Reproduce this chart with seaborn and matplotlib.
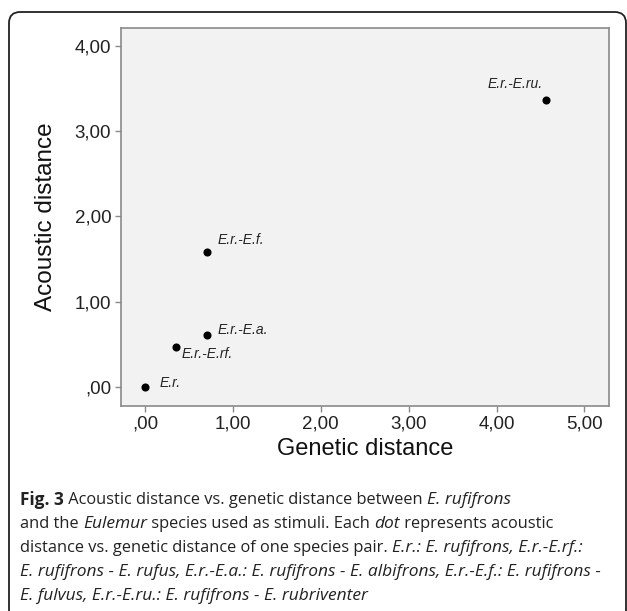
import matplotlib
matplotlib.use("Agg")
import matplotlib.pyplot as plt
import seaborn as sns
import pandas as pd
from matplotlib.patches import FancyBboxPatch

# species pairs
pair_labels = ["E.r.", "E.r.-E.rf.", "E.r.-E.a.", "E.r.-E.f.", "E.r.-E.ru."]
genetic_dist = [0.00, 0.35, 0.71, 0.71, 4.56]
acoustic_dist = [0.00, 0.47, 0.61, 1.58, 3.36]

x_ticks = [0, 1, 2, 3, 4, 5]
y_ticks = [0, 1, 2, 3, 4]
x_tick_labels = [",00", "1,00", "2,00", "3,00", "4,00", "5,00"]
y_tick_labels = [",00", "1,00", "2,00", "3,00", "4,00"]

df = pd.DataFrame({"Genetic distance": genetic_dist,
                   "Acoustic distance": acoustic_dist,
                   "pair": pair_labels})

# label offsets in pixels (dx, dy, ha)
label_offsets = {
    "E.r.": (15, 4, "left"),
    "E.r.-E.rf.": (6, -7, "left"),
    "E.r.-E.a.": (10, 5, "left"),
    "E.r.-E.f.": (10, 12, "left"),
    "E.r.-E.ru.": (-3, 16, "right"),
}

sns.set_style("white")
plt.rcParams["font.family"] = ["Liberation Sans", "DejaVu Sans"]

fig = plt.figure(figsize=(6.27, 6.11), dpi=100)
W, H = 627, 611

# rounded outer frame
frame = FancyBboxPatch((9 / W, -10 / H), 617 / W, (H - 12 + 10) / H,
                       boxstyle="round,pad=0,rounding_size=0.018",
                       transform=fig.transFigure, fill=False,
                       edgecolor="#222222", linewidth=1.3, clip_on=False)
fig.patches.append(frame)

ax = fig.add_axes([121 / W, (H - 405.5) / H, (609 - 121) / W, (405.5 - 28) / H])
ax.set_facecolor("#f2f2f2")

sns.scatterplot(data=df, x="Genetic distance", y="Acoustic distance", ax=ax,
                color="black", s=34, edgecolor="black", linewidth=0, zorder=3)

for lab, gx, ay in zip(pair_labels, genetic_dist, acoustic_dist):
    dx, dy, ha = label_offsets[lab]
    ax.annotate(lab, (gx, ay), xytext=(dx * 0.72, dy * 0.72),
                textcoords="offset points", ha=ha, va="center",
                fontsize=10, style="italic", color="#222222")

ax.set_xlim(-0.273, 5.28)
ax.set_ylim(-0.22, 4.21)
ax.set_xticks(x_ticks)
ax.set_xticklabels(x_tick_labels)
ax.set_yticks(y_ticks)
ax.set_yticklabels(y_tick_labels)

for sp in ax.spines.values():
    sp.set_visible(True)
    sp.set_color("#8a8a8a")
    sp.set_linewidth(1.2)

ax.tick_params(axis="both", direction="out", length=4, width=1, color="#8a8a8a",
               labelsize=13.5, labelcolor="#222222", pad=3,
               left=True, bottom=True)
ax.set_xlabel("Genetic distance", fontsize=17, color="#111111", labelpad=4)
ax.set_ylabel("Acoustic distance", fontsize=17.5, color="#111111", labelpad=13)

# caption with mixed styles
cap_font = ["Open Sans", "DejaVu Sans"]
cap_size = 11.8
cap_lines = [
    [("Fig. 3", "bold"), (" Acoustic distance vs. genetic distance between ", "normal"),
     ("E. rufifrons", "italic")],
    [("and the ", "normal"), ("Eulemur", "italic"),
     (" species used as stimuli. Each ", "normal"), ("dot", "italic"),
     (" represents acoustic", "normal")],
    [("distance vs. genetic distance of one species pair. ", "normal"),
     ("E.r.: E. rufifrons, E.r.-E.rf.:", "italic")],
    [("E. rufifrons - E. rufus, E.r.-E.a.: E. rufifrons - E. albifrons, "
      "E.r.-E.f.: E. rufifrons -", "italic")],
    [("E. fulvus, E.r.-E.ru.: E. rufifrons - E. rubriventer", "italic")],
]
line_y = [500, 524, 548, 572, 596]

renderer = fig.canvas.get_renderer()
for segs, yy in zip(cap_lines, line_y):
    x = 20
    for txt, sty in segs:
        kw = dict(fontsize=cap_size, family=cap_font, color="#222222",
                  va="center", ha="left")
        if sty == "bold":
            kw["fontweight"] = "bold"
            kw["fontsize"] = cap_size + 0.6
        elif sty == "italic":
            kw["style"] = "italic"
            kw["fontsize"] = cap_size * 1.06
        t = fig.text(x / W, 1 - yy / H, txt, **kw)
        bb = t.get_window_extent(renderer=renderer)
        x += bb.width

fig.savefig("out.png", dpi=100)
